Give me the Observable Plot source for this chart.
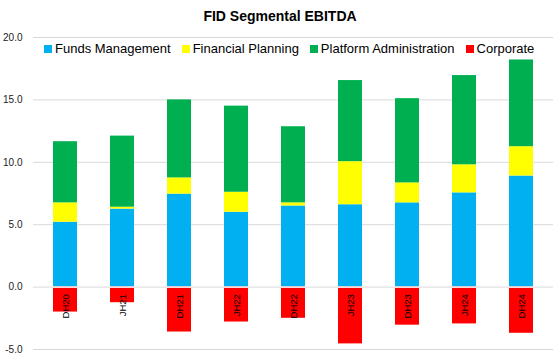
<!DOCTYPE html>
<html>
<head>
<meta charset="utf-8">
<script src="https://cdn.jsdelivr.net/npm/d3@7"></script>
<script src="https://cdn.jsdelivr.net/npm/@observablehq/plot@0.6"></script>
<style>
  html, body { margin: 0; padding: 0; background: #fff; }
  #wrap { position: relative; width: 558px; height: 358px; font-family: "Liberation Sans", Arial, sans-serif; }
  #title { position: absolute; left: 0; width: 558px; top: 8px; text-align: center; font-weight: bold; font-size: 14px; color: #000; padding-left: 2px; box-sizing: border-box; }
  #legend { position: absolute; left: 44px; top: 41px; display: flex; gap: 11px; font-size: 13px; color: #000; z-index: 2; }
  #legend .item { display: flex; align-items: center; gap: 3px; white-space: nowrap; }
  #legend .sw { width: 8px; height: 8px; display: inline-block; }
  #chart { position: absolute; left: 0; top: 0; }
</style>
</head>
<body>
<div id="wrap">
  <div id="chart"></div>
  <div id="title"></div>
  <div id="legend"></div>
</div>
<script>
const title = "FID Segmental EBITDA";
const categories = ["DH20","JH21","DH21","JH22","DH22","JH23","DH23","JH24","DH24"];
const seriesNames = ["Funds Management","Financial Planning","Platform Administration","Corporate"];
const seriesColors = ["#00B0F0","#FFFF00","#00B050","#FF0000"];
const fundsManagement = [5.2, 6.25, 7.45, 6.0, 6.5, 6.6, 6.75, 7.55, 8.9];
const financialPlanning = [1.55, 0.15, 1.3, 1.6, 0.25, 3.45, 1.6, 2.25, 2.35];
const platformAdministration = [4.9, 5.7, 6.25, 6.9, 6.1, 6.5, 6.75, 7.15, 6.95];
const corporate = [-2.0, -1.25, -3.6, -2.8, -2.5, -4.55, -3.05, -2.95, -3.7];
const yTicks = [-5, 0, 5, 10, 15, 20];

const seriesValues = [fundsManagement, financialPlanning, platformAdministration, corporate];
const rows = [];
seriesNames.forEach((s, i) => categories.forEach((c, j) => rows.push({category: c, series: s, value: seriesValues[i][j]})));

document.getElementById("title").textContent = title;
const legend = document.getElementById("legend");
seriesNames.forEach((s, i) => {
  const it = document.createElement("div");
  it.className = "item";
  const sw = document.createElement("span");
  sw.className = "sw";
  sw.style.background = seriesColors[i];
  const t = document.createElement("span");
  t.textContent = s;
  it.appendChild(sw); it.appendChild(t);
  legend.appendChild(it);
});

const chart = Plot.plot({
  width: 558,
  height: 358,
  marginTop: 37,
  marginBottom: 9,
  marginLeft: 33,
  marginRight: 5,
  style: {fontFamily: "Liberation Sans, Arial, sans-serif", background: "#fff"},
  x: {domain: categories, paddingInner: 0.585, paddingOuter: 0.29, axis: null},
  y: {domain: [-5, 20], axis: null},
  color: {domain: seriesNames, range: seriesColors},
  marks: [
    Plot.ruleY(yTicks, {stroke: "#d9d9d9", strokeWidth: 1}),
    Plot.barY(rows, Plot.stackY({x: "category", y: "value", fill: "series", z: "series"})),
    Plot.tickY(categories, {x: d => d, y: () => 0, stroke: "#fff", strokeWidth: 1.5}),
    Plot.axisY({ticks: yTicks, label: null, tickSize: 0, tickPadding: 11, tickFormat: d => d.toFixed(1), fontSize: 10, fill: "#222"}),
    Plot.text(categories, {x: d => d, y: () => 0, text: d => d, rotate: -90, textAnchor: "end", dy: 7, fontSize: 9.5, fill: "#000"})
  ]
});
document.getElementById("chart").appendChild(chart);
</script>
</body>
</html>
